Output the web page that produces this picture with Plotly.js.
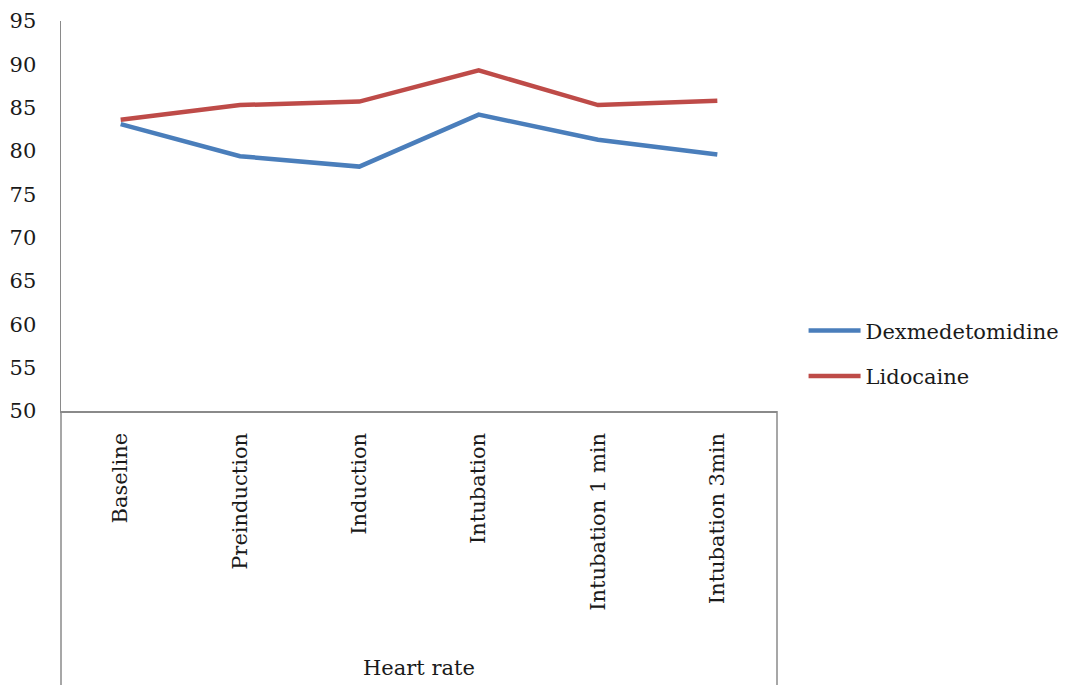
<!DOCTYPE html>
<html>
<head>
<meta charset="utf-8">
<script src="https://cdn.plot.ly/plotly-3.0.1.min.js"></script>
<style>
  html, body { margin: 0; padding: 0; background: #ffffff; }
  #chart { width: 1070px; height: 685px; }
</style>
</head>
<body>
<div id="chart"></div>
<script>
// Heart rate over the anaesthesia timeline, two study groups
const timepoints = ["Baseline", "Preinduction", "Induction", "Intubation", "Intubation 1 min", "Intubation 3min"];
const dexmedetomidine = [83.1, 79.4, 78.2, 84.2, 81.3, 79.6];
const lidocaine = [83.6, 85.3, 85.7, 89.3, 85.3, 85.8];
const yTicks = [50, 55, 60, 65, 70, 75, 80, 85, 90, 95];
const axisTitle = "Heart rate";

const FONT = "DejaVu Serif, Liberation Serif, serif";
const TEXT = "#1a1a1a";
const AXIS = "#8a8a8a";

const traces = [
  {
    x: timepoints, y: dexmedetomidine, name: "Dexmedetomidine",
    type: "scatter", mode: "lines", legendgroup: "dex",
    line: { color: "#4a7ebb", width: 4.5 }
  },
  {
    x: timepoints, y: lidocaine, name: "Lidocaine",
    type: "scatter", mode: "lines", legendgroup: "lido",
    line: { color: "#be4b48", width: 4.5 }
  }
];

const layout = {
  width: 1070, height: 685,
  margin: { l: 61, r: 293, t: 21, b: 274, pad: 0, autoexpand: false },
  paper_bgcolor: "#ffffff", plot_bgcolor: "#ffffff",
  font: { family: FONT, size: 20, color: TEXT },
  showlegend: true,
  legend: {
    xref: "container", yref: "container",
    x: 0.751, xanchor: "left",
    y: 0.484, yanchor: "middle",
    bgcolor: "rgba(0,0,0,0)", borderwidth: 0,
    font: { family: FONT, size: 21, color: TEXT },
    traceorder: "grouped", tracegroupgap: 15, itemwidth: 52
  },
  xaxis: {
    type: "category",
    range: [-0.5, 5.5],
    showgrid: false, zeroline: false,
    showline: true, linecolor: AXIS, linewidth: 1.5,
    ticks: "", tickangle: -90,
    ticklabelstandoff: 12,
    tickfont: { family: FONT, size: 21, color: TEXT },
    fixedrange: true
  },
  yaxis: {
    range: [50, 95],
    tickmode: "array", tickvals: yTicks, ticktext: yTicks.map(String),
    showgrid: false, zeroline: false,
    showline: true, linecolor: AXIS, linewidth: 1.5,
    ticks: "", ticklabelstandoff: 19,
    tickfont: { family: FONT, size: 21, color: TEXT },
    fixedrange: true
  },
  shapes: [
    // frame around the category label area below the plot
    { type: "line", xref: "paper", yref: "paper", x0: 0, x1: 0, y0: 0, y1: -0.75,
      line: { color: AXIS, width: 1.5 } },
    { type: "line", xref: "paper", yref: "paper", x0: 1, x1: 1, y0: 0, y1: -0.75,
      line: { color: AXIS, width: 1.5 } }
  ],
  annotations: [
    { text: axisTitle, xref: "paper", yref: "paper", x: 0.5, y: -0.659,
      xanchor: "center", yanchor: "middle", showarrow: false,
      font: { family: FONT, size: 21, color: TEXT } }
  ]
};

Plotly.newPlot("chart", traces, layout, { staticPlot: true, displayModeBar: false });
</script>
</body>
</html>
